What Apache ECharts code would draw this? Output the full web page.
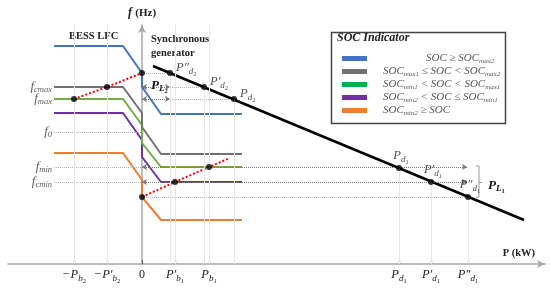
<!DOCTYPE html>
<html>
<head>
<meta charset="utf-8">
<script src="https://cdn.jsdelivr.net/npm/echarts@6/dist/echarts.min.js"></script>
<style>
html, body { margin: 0; padding: 0; background: #fff; }
#chart { width: 550px; height: 290px; }
</style>
</head>
<body>
<div id="chart"></div>
<script>
// values, P and f in arbitrary units
const pTicks = [-68, -35, 0, 33, 67, 257, 289, 326];
const pTickLabels = [['−P', 'b', '2'], ['−P′', 'b', '2'], ['0'], ['P′', 'b', '1'], ['P', 'b', '1'], ['P', 'd', '1'], ['P′', 'd', '1'], ['P″', 'd', '1']];
const fLevels = [177, 165, 132, 97, 82];
const fLabels = ['cmax', 'max', '0', 'min', 'cmin'];

// BESS LFC characteristic for each SOC band
const bessP = [-88, -19, 0, 0, 19, 100];
const socHigh = [218, 218, 191, 177, 150, 150];
const socMax = [177, 177, 151, 137, 110, 110];
const socMid = [165, 165, 139, 121, 97, 97];
const socMin = [151, 151, 124, 107, 82, 82];
const socLow = [111, 111, 84, 67, 44, 44];

// synchronous generator droop
const droopP = [11, 382];
const droopF = [198, 44];
const opP = [28, 62, 92, 257, 289, 326];
const opF = [191, 177, 165, 96, 82, 67];
const opNames = [['P″', 'd', '2'], ['P′', 'd', '2'], ['P', 'd', '2'], ['P', 'd', '1'], ['P′', 'd', '1'], ['P″', 'd', '1']];

// red loci of the BESS points
const upperP = [-68, -35, 0];
const upperF = [165, 177, 191];
const lowerP = [0, 33, 67, 88];
const lowerF = [67, 82, 97, 106];

const serif = 'Liberation Serif';
const zip = (xs, ys) => xs.map((x, i) => [x, ys[i]]);
const sym = parts => parts.length === 1 ? `{n|${parts[0]}}` : `{p|${parts[0]}}{s|${parts[1]}}{ss|${parts[2]}}`;
const symRich = {
    n: { fontFamily: serif, fontSize: 12, color: '#222', lineHeight: 14 },
    p: { fontFamily: serif, fontStyle: 'italic', fontSize: 12.5, color: '#222', lineHeight: 14 },
    s: { fontFamily: serif, fontStyle: 'italic', fontSize: 9, color: '#222', lineHeight: 8, padding: [7, 0, 0, 0] },
    ss: { fontFamily: serif, fontSize: 6.5, color: '#222', lineHeight: 6, padding: [12, 0, 0, 0] },
};
const boldRich = {
    p: { fontFamily: serif, fontStyle: 'italic', fontWeight: 'bold', fontSize: 13, fill: '#111', lineHeight: 14 },
    s: { fontFamily: serif, fontStyle: 'italic', fontWeight: 'bold', fontSize: 9, fill: '#111', lineHeight: 8, padding: [7, 0, 0, 0] },
    ss: { fontFamily: serif, fontWeight: 'bold', fontSize: 6.5, fill: '#111', lineHeight: 6, padding: [12, 0, 0, 0] },
};

const socSeries = [
    { name: 'high', data: socHigh, line: '#4472C4', box: '#4472C4', text: '{sp1| }{t|SOC ≥ SOC}{s|max2}' },
    { name: 'max', data: socMax, line: '#767171', box: '#767171', text: '{sp| }{t|SOC}{s|max1}{t| ≤ SOC < SOC}{s|max2}' },
    { name: 'mid', data: socMid, line: '#70AD47', box: '#00B050', text: '{sp| }{t|SOC}{s|min1}{t| < SOC < SOC}{s|max1}' },
    { name: 'min', data: socMin, line: '#7030A0', box: '#7030A0', text: '{sp| }{t|SOC}{s|min2}{t| < SOC ≤ SOC}{s|min1}' },
    { name: 'low', data: socLow, line: '#ED7D31', box: '#ED7D31', text: '{sp| }{t|SOC}{s|min2}{t| ≥ SOC}' },
];

// dotted guides: [p1, p2, f, arrows]
const fLeft = bessP[0];
const hGuides = [
    [0, opP[0], opF[0], false],
    [0, opP[1], fLevels[0], false],
    [0, opP[2], fLevels[1], false],
    [fLeft, 0, fLevels[2], false],
    [fLeft, opP[5] - 1, fLevels[3], false],
    [fLeft, opP[5] - 1, fLevels[4], false],
    [0, opP[5], opF[5], false],
    [0, opP[0], fLevels[0], true],
    [0, opP[0], fLevels[1], true],
    [0, opP[5] - 1, fLevels[3], true],
    [0, opP[5] - 1, fLevels[4], true],
];
const vGuides = [
    ...[-68, -35, 33, 67].map(p => [p, 0, 239]),
    ...opP.map((p, i) => [p, 0, opF[i]]),
];

const chart = echarts.init(document.getElementById('chart'));
const option = {
    animation: false,
    grid: { left: 8, right: 5, top: 25, bottom: 26, outerBoundsMode: 'none' },
    xAxis: {
        type: 'value',
        min: -134,
        max: 403,
        name: 'P (kW)',
        nameLocation: 'end',
        nameGap: -10,
        nameTextStyle: { fontFamily: serif, fontWeight: 'bold', fontSize: 10.5, color: '#222', align: 'right', verticalAlign: 'bottom', padding: [0, 0, 5, 0] },
        axisLine: { lineStyle: { color: '#a6a6a6', width: 1.5 }, symbol: ['none', 'arrow'], symbolSize: [6, 8] },
        axisTick: { customValues: pTicks, inside: true, length: 4, lineStyle: { color: '#666', width: 1.2 } },
        axisLabel: {
            customValues: pTicks,
            margin: 4,
            formatter: v => sym(pTickLabels[pTicks.indexOf(v)]),
            rich: symRich,
        },
        splitLine: { show: false },
    },
    yAxis: {
        type: 'value',
        min: 0,
        max: 239,
        name: '{i|f} {b|(Hz)}',
        nameGap: 6,
        nameTextStyle: {
            rich: {
                i: { fontFamily: serif, fontStyle: 'italic', fontWeight: 'bold', fontSize: 12, color: '#222' },
                b: { fontFamily: serif, fontWeight: 'bold', fontSize: 11, color: '#222' },
            },
        },
        axisLine: { onZero: true, lineStyle: { color: '#a6a6a6', width: 1.5 }, symbol: ['none', 'arrow'], symbolSize: [6, 8] },
        axisTick: { show: false },
        axisLabel: { show: false },
        splitLine: { show: false },
    },
    legend: {
        left: 337,
        top: 47,
        orient: 'vertical',
        icon: 'rect',
        itemWidth: 25,
        itemHeight: 5,
        itemGap: 0,
        selectedMode: false,
        data: socSeries.map(s => ({ name: s.name, itemStyle: { color: s.box } })),
        formatter: name => socSeries.find(s => s.name === name).text,
        textStyle: {
            rich: {
                sp: { width: 11 },
                sp1: { width: 54 },
                t: { fontFamily: serif, fontStyle: 'italic', fontSize: 11, color: '#595959', lineHeight: 14 },
                s: { fontFamily: serif, fontStyle: 'italic', fontSize: 7, color: '#595959', lineHeight: 7, padding: [6, 0, 0, 0] },
            },
        },
    },
    graphic: [
        { type: 'rect', left: 329, top: 30, shape: { width: 174, height: 91 }, style: { fill: 'none', stroke: '#444', lineWidth: 1.5 } },
        { type: 'text', left: 337, top: 32, style: { text: 'SOC Indicator', font: 'italic bold 12px "Liberation Serif"', fill: '#222' } },
        { type: 'text', left: 69, top: 31, style: { text: 'BESS LFC', font: 'bold 10.5px "Liberation Serif"', fill: '#222' } },
        { type: 'text', left: 151, top: 32, style: { text: 'Synchronous\ngenerator', font: 'bold 10.5px "Liberation Serif"', fill: '#222', lineHeight: 14 } },
        { type: 'text', left: 151, top: 76, style: { text: '{p|P}{s|L}{ss|2}', rich: boldRich } },
        { type: 'text', left: 488, top: 176, style: { text: '{p|P}{s|L}{ss|1}', rich: boldRich } },
    ],
    series: [
        {
            name: 'guides',
            type: 'line',
            data: [],
            silent: true,
            markLine: {
                silent: true,
                symbolSize: [5, 5],
                label: { show: false },
                emphasis: { disabled: true },
                data: [
                    ...hGuides.map(([p1, p2, f, arrows]) => [
                        { coord: [p1, f], symbol: arrows ? 'arrow' : 'none', lineStyle: { color: arrows ? '#777' : '#b5b5b5', type: 'dotted', width: 1 } },
                        { coord: [p2, f], symbol: arrows ? 'arrow' : 'none' },
                    ]),
                    ...vGuides.map(([p, f1, f2]) => [
                        { coord: [p, f1], symbol: 'none', lineStyle: { color: '#e6e6e6', type: 'solid', width: 1 } },
                        { coord: [p, f2], symbol: 'none' },
                    ]),
                ],
            },
        },
        {
            name: 'f levels',
            type: 'scatter',
            symbolSize: 0,
            silent: true,
            data: fLevels.map(f => [fLeft, f]),
            label: {
                show: true,
                position: 'left',
                distance: 2,
                formatter: p => `{f|f}{fs|${fLabels[p.dataIndex]}}`,
                rich: {
                    f: { fontFamily: serif, fontStyle: 'italic', fontSize: 13, color: '#333', lineHeight: 14 },
                    fs: { fontFamily: serif, fontStyle: 'italic', fontSize: 8.5, color: '#333', lineHeight: 8, padding: [6, 0, 0, 0] },
                },
            },
        },
        {
            name: 'bracket',
            type: 'line',
            data: [[opP[5] + 8, fLevels[3] + 1], [opP[5] + 11, fLevels[3] + 1], [opP[5] + 11, opF[5]], [opP[5] + 8, opF[5]]],
            showSymbol: false,
            silent: true,
            lineStyle: { color: '#999', width: 1 },
            markLine: {
                silent: true,
                symbol: 'none',
                label: { show: false },
                lineStyle: { color: '#999', type: 'solid', width: 1 },
                data: [[{ coord: [opP[5] + 11, fLevels[4]] }, { coord: [opP[5] + 14, fLevels[4]] }]],
            },
        },
        ...socSeries.slice().reverse().map(s => ({
            name: s.name,
            type: 'line',
            data: zip(bessP, s.data),
            showSymbol: false,
            silent: true,
            color: s.line,
            lineStyle: { color: s.line, width: 2 },
        })),
        {
            name: 'droop',
            type: 'line',
            data: zip(droopP, droopF),
            showSymbol: false,
            silent: true,
            lineStyle: { color: '#000', width: 2.5 },
        },
        {
            name: 'upper locus',
            type: 'line',
            data: zip(upperP, upperF),
            showSymbol: false,
            silent: true,
            lineStyle: { color: '#ff0000', width: 2, type: 'dotted' },
        },
        {
            name: 'lower locus',
            type: 'line',
            data: zip(lowerP, lowerF),
            showSymbol: false,
            silent: true,
            lineStyle: { color: '#ff0000', width: 2, type: 'dotted' },
        },
        {
            name: 'points',
            type: 'scatter',
            symbolSize: 6,
            silent: true,
            z: 5,
            itemStyle: { color: '#000' },
            data: [
                ...zip(upperP, upperF),
                ...zip(lowerP.slice(0, 3), lowerF.slice(0, 3)),
                ...opP.map((p, i) => ({
                    value: [p, opF[i]],
                    label: i < 3
                        ? { show: true, position: 'right', distance: 3, offset: [0, -5], formatter: sym(opNames[i]), rich: symRich }
                        : { show: true, position: 'top', distance: 2, offset: [2, 0], formatter: sym(opNames[i]), rich: symRich },
                })),
            ],
        },
    ],
};
chart.setOption(option);
</script>
</body>
</html>
